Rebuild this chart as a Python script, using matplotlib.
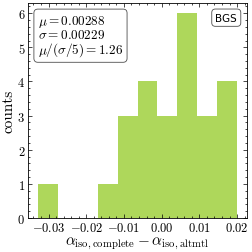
import numpy as np
import matplotlib.pyplot as plt
from matplotlib.ticker import MultipleLocator, FormatStrFormatter

plt.rcParams['font.family'] = 'serif'
plt.rcParams['font.serif'] = ['cmr10']
plt.rcParams['mathtext.fontset'] = 'cm'
plt.rcParams['axes.formatter.use_mathtext'] = True
plt.rcParams['axes.unicode_minus'] = True
plt.rcParams['xtick.direction'] = 'in'
plt.rcParams['ytick.direction'] = 'in'
plt.rcParams['xtick.top'] = True
plt.rcParams['ytick.right'] = True
plt.rcParams['xtick.minor.visible'] = True
plt.rcParams['ytick.minor.visible'] = True

# histogram of differences
bin_lo = -0.0328
bin_hi = 0.0200
counts = [1, 0, 0, 1, 3, 4, 3, 6, 3, 4]
mu = 0.00288
sigma = 0.00229
ratio = 1.26
tracer = 'BGS'

edges = np.linspace(bin_lo, bin_hi, len(counts) + 1)

fig = plt.figure(figsize=(2.53, 2.53), dpi=100)
ax = fig.add_axes([28/253, 34/253, 219/253, 215/253])

ax.hist(edges[:-1], bins=edges, weights=counts, color='yellowgreen', alpha=0.8)

ax.xaxis.set_major_locator(MultipleLocator(0.01))
ax.xaxis.set_minor_locator(MultipleLocator(0.002))
ax.xaxis.set_major_formatter(FormatStrFormatter('$%.2f$'))
ax.yaxis.set_major_locator(MultipleLocator(1))
ax.yaxis.set_minor_locator(MultipleLocator(0.2))
ax.yaxis.set_major_formatter(FormatStrFormatter('$%d$'))

ax.set_xlabel(r'$\alpha_{\rm iso,complete} - \alpha_{\rm iso,altmtl}$', fontsize=11, labelpad=1)
ax.set_ylabel('counts', fontsize=11, labelpad=1)
ax.tick_params(labelsize=9, pad=2, length=3, width=0.5)
ax.tick_params(which='minor', length=1.5, width=0.5)
for s in ax.spines.values():
    s.set_linewidth(0.6)

txt = '$\\mu = %.5f$\n$\\sigma = %.5f$\n$\\mu/(\\sigma/5) = %.2f$' % (mu, sigma, ratio)
ax.text(0.045, 0.955, txt, transform=ax.transAxes, va='top', ha='left', fontsize=9.5,
        linespacing=0.95,
        bbox=dict(boxstyle='round,pad=0.3', fc='white', ec='0.3', lw=0.6))
ax.text(0.955, 0.955, tracer, transform=ax.transAxes, va='top', ha='right', fontsize=7.5,
        family='DejaVu Sans',
        bbox=dict(boxstyle='round,pad=0.35', fc='white', ec='0.3', lw=0.6))

fig.savefig('out.png', dpi=100)
